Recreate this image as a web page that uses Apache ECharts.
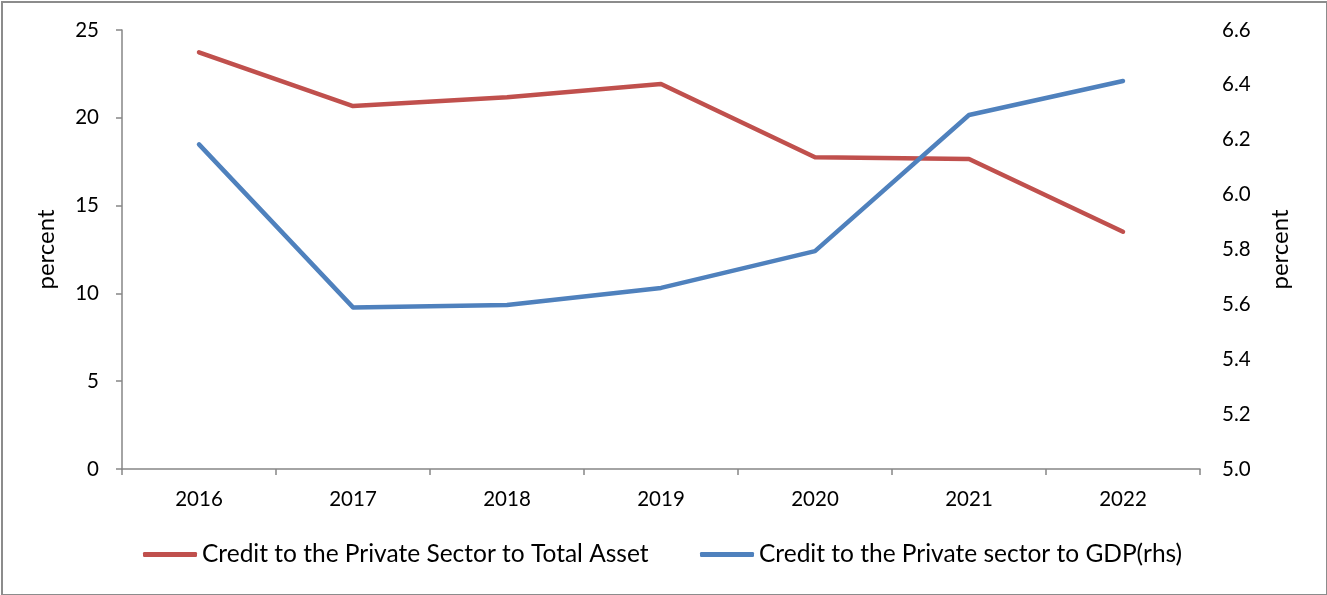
<!DOCTYPE html>
<html>
<head>
<meta charset="utf-8">
<script src="https://cdn.jsdelivr.net/npm/echarts@6/dist/echarts.min.js"></script>
<style>
html,body{margin:0;padding:0;background:#fff;}
#frame{position:absolute;left:1px;top:1px;width:1323px;height:591px;border:2px solid #8c8c8c;box-sizing:content-box;}
#chart{width:1327px;height:595px;position:absolute;left:0;top:0;}
</style>
</head>
<body>
<div id="frame"></div>
<div id="chart"></div>
<script>
const categories = ['2016','2017','2018','2019','2020','2021','2022'];
const creditToTotalAsset = [23.73, 20.67, 21.17, 21.92, 17.75, 17.65, 13.51];
const creditToGDP = [6.183, 5.589, 5.598, 5.66, 5.794, 6.29, 6.414];
const seriesNames = ['Credit to the Private Sector to Total Asset', 'Credit to the Private sector to GDP(rhs)'];

const FONT = 'Lato';
const axisGray = '#868686';
const chart = echarts.init(document.getElementById('chart'));
chart.setOption({
  animation: false,
  textStyle: {fontFamily: FONT},
  grid: {left: 122, right: 127, top: 30, bottom: 126, containLabel: false},
  legend: [
    {data: [seriesNames[0]], left: 143, top: 542, padding: 0, itemWidth: 54, itemHeight: 5, icon: 'roundRect', itemGap: 0,
     textStyle: {fontFamily: FONT, fontSize: 24.5, color: '#000'}},
    {data: [seriesNames[1]], left: 700, top: 542, padding: 0, itemWidth: 54, itemHeight: 5, icon: 'roundRect', itemGap: 0,
     textStyle: {fontFamily: FONT, fontSize: 24.5, color: '#000'}}
  ],
  xAxis: {
    type: 'category', data: categories, boundaryGap: true,
    axisLine: {lineStyle: {color: axisGray, width: 1.5}},
    axisTick: {show: true, length: 6, lineStyle: {color: axisGray, width: 1.5}, interval: 0},
    axisLabel: {color: '#000', fontSize: 20.5, fontFamily: FONT, margin: 20}
  },
  yAxis: [
    {type: 'value', min: 0, max: 25, interval: 5, position: 'left',
     name: 'percent', nameLocation: 'middle', nameGap: 64, nameRotate: 90,
     nameTextStyle: {color: '#000', fontSize: 24, fontFamily: FONT},
     axisLine: {show: true, lineStyle: {color: axisGray, width: 1.5}},
     axisTick: {show: true, length: 6, lineStyle: {color: axisGray, width: 1.5}},
     splitLine: {show: false},
     axisLabel: {color: '#000', fontSize: 20.5, fontFamily: FONT, margin: 23}},
    {type: 'value', min: 5.0, max: 6.6, interval: 0.2, position: 'right',
     name: 'percent', nameLocation: 'middle', nameGap: 68, nameRotate: 90,
     nameTextStyle: {color: '#000', fontSize: 24, fontFamily: FONT},
     axisLine: {show: false}, axisTick: {show: false}, splitLine: {show: false},
     axisLabel: {color: '#000', fontSize: 20.5, fontFamily: FONT, margin: 22,
       formatter: v => v.toFixed(1)}}
  ],
  series: [
    {name: seriesNames[0], type: 'line', yAxisIndex: 0, data: creditToTotalAsset,
     symbol: 'none', lineStyle: {color: '#C0504D', width: 4.5, cap: 'round', join: 'round'}, itemStyle: {color: '#C0504D'}},
    {name: seriesNames[1], type: 'line', yAxisIndex: 1, data: creditToGDP,
     symbol: 'none', lineStyle: {color: '#4F81BD', width: 4.5, cap: 'round', join: 'round'}, itemStyle: {color: '#4F81BD'}}
  ]
});
</script>
</body>
</html>
